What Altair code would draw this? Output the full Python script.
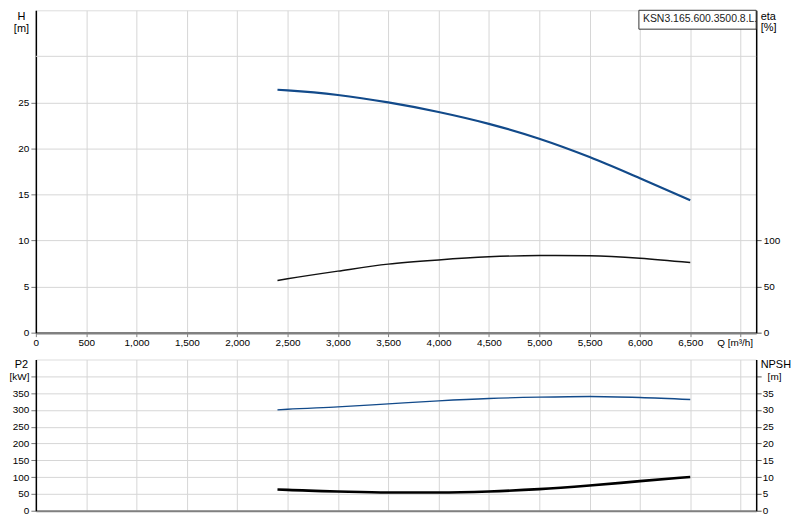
import altair as alt
import pandas as pd

# ---- data ----
Q = [2400, 2500, 3000, 3500, 4000, 4500, 5000, 5500, 6000, 6500]
H = [26.37, 26.3, 25.8, 25.0, 23.96, 22.67, 21.05, 19.06, 16.76, 14.38]
ETA = [56.7, 58.5, 66.8, 74.4, 79.0, 82.3, 83.7, 83.4, 80.9, 76.1]
P2 = [300, 302, 309, 318, 327, 334, 338, 340, 337, 331]
NPSH = [6.33, 6.2, 5.74, 5.44, 5.44, 5.74, 6.42, 7.5, 8.8, 10.06]

X_TICKS = list(range(0, 7001, 500))
H_TICKS = list(range(0, 26, 5))
H_EXTRA_GRID = [30]
ETA_TICKS = [0, 50, 100]
P2_TICKS = list(range(0, 401, 50))
NPSH_TICKS = list(range(0, 41, 5))
LABEL_TEXT = "KSN3.165.600.3500.8.L."

df = pd.DataFrame({"Q": Q, "H": H, "eta": ETA, "P2": P2, "NPSH": NPSH})
grid_df = pd.DataFrame({"h": H_EXTRA_GRID})

QMAX = 7155
FONT = "Liberation Sans"
FS = 10.5
BLUE = "#124a8a"
GRID = "#d6d6d6"
TXT = "#222222"

box_df = pd.DataFrame({"q1": [5990], "q2": [QMAX], "h1": [32.95], "h2": [35]})
txt_df = pd.DataFrame({"q": [6030], "h": [34.0], "t": [LABEL_TEXT]})

xscale = alt.Scale(domain=[0, QMAX], nice=False, zero=False)
hscale = alt.Scale(domain=[0, 35], nice=False)

x_top = alt.X(
    "Q:Q", scale=xscale,
    axis=alt.Axis(
        values=X_TICKS, title=None, grid=True, gridColor=GRID,
        labelExpr="datum.value == 7000 ? 'Q [m³/h]' : format(datum.value, ',')",
        labelOffset={"condition": {"test": "datum.value == 7000", "value": -6}, "value": 0},
        labelFlush=False, labelOverlap=False,
        domainColor="#808080", domainWidth=2.5, tickColor="#808080", tickSize=4,
        labelPadding=1,
    ),
)

grid30 = alt.Chart(grid_df).mark_rule(color=GRID, strokeWidth=1).encode(
    y=alt.Y("h:Q", scale=hscale, axis=None),
)

h_line = alt.Chart(df).mark_line(color=BLUE, strokeWidth=2.2, interpolate="monotone").encode(
    x=x_top,
    y=alt.Y(
        "H:Q", scale=hscale,
        axis=alt.Axis(
            values=H_TICKS, grid=True, gridColor=GRID,
            title=["H", "[m]"], titleAngle=0, titleX=-15, titleY=9,
            titleBaseline="alphabetic", titleAlign="center", titleLineHeight=12,
            titleFontWeight="normal",
            domainColor="#000000", domainWidth=1.5, tickColor="#777777", tickSize=5,
            labelPadding=2,
        ),
    ),
)

box = alt.Chart(box_df).mark_rect(fill="white", stroke="#333333", strokeWidth=1).encode(
    x=alt.X("q1:Q", scale=xscale),
    x2="q2:Q",
    y=alt.Y("h1:Q", scale=hscale, axis=None),
    y2="h2:Q",
)

box_text = alt.Chart(txt_df).mark_text(
    align="left", baseline="middle", font=FONT, fontSize=FS, color=TXT, clip=True
).encode(
    x=alt.X("q:Q", scale=xscale),
    y=alt.Y("h:Q", scale=hscale, axis=None),
    text="t:N",
)

eta_line = alt.Chart(df).mark_line(color="#111111", strokeWidth=1.5, interpolate="monotone").encode(
    x=alt.X("Q:Q", scale=xscale),
    y=alt.Y(
        "eta:Q", scale=alt.Scale(domain=[0, 350], nice=False),
        axis=alt.Axis(
            orient="right", values=ETA_TICKS, grid=False,
            title=["eta", "[%]"], titleAngle=0, titleX=4, titleY=9,
            titleBaseline="alphabetic", titleAlign="left", titleLineHeight=11,
            titleFontWeight="normal",
            domainColor="#000000", domainWidth=1.5, tickColor="#555555", tickSize=5,
            labelPadding=2,
        ),
    ),
)

top = alt.layer(grid30, h_line, eta_line, box, box_text).resolve_scale(y="independent").properties(
    width=724, height=324
)

x_bot = alt.X(
    "Q:Q", scale=xscale,
    axis=alt.Axis(
        values=X_TICKS, title=None, grid=True, gridColor=GRID, labels=False, ticks=False,
        domainColor="#808080", domainWidth=2,
    ),
)

p2_line = alt.Chart(df).mark_line(color=BLUE, strokeWidth=1.4, interpolate="monotone").encode(
    x=x_bot,
    y=alt.Y(
        "P2:Q", scale=alt.Scale(domain=[0, 450], nice=False),
        axis=alt.Axis(
            values=P2_TICKS, grid=True, gridColor=GRID,
            labelExpr="datum.value == 400 ? '[kW]' : datum.label",
            title="P2", titleAngle=0, titleX=-15, titleY=5,
            titleBaseline="middle", titleAlign="center", titleFontWeight="normal",
            domainColor="#000000", domainWidth=1.5, tickColor="#777777", tickSize=5,
            labelPadding=2,
        ),
    ),
)

npsh_line = alt.Chart(df).mark_line(color="#000000", strokeWidth=2.6, interpolate="monotone").encode(
    x=alt.X("Q:Q", scale=xscale),
    y=alt.Y(
        "NPSH:Q", scale=alt.Scale(domain=[0, 45], nice=False),
        axis=alt.Axis(
            orient="right", values=NPSH_TICKS, grid=False,
            labelExpr="datum.value == 40 ? '[m]' : datum.label",
            labelPadding={"condition": {"test": "datum.value == 40", "value": 6}, "value": 1},
            title="NPSH", titleAngle=0, titleX=4, titleY=5,
            titleBaseline="middle", titleAlign="left", titleFontWeight="normal",
            domainColor="#000000", domainWidth=1.5, tickColor="#555555", tickSize=5,
        ),
    ),
)

bottom = alt.layer(p2_line, npsh_line).resolve_scale(y="independent").properties(
    width=724, height=152
)

chart = alt.vconcat(top, bottom, spacing=9).properties(
    padding={"left": 0, "top": 0, "right": 0, "bottom": 0}
).configure_view(
    stroke="#666666", strokeWidth=1.2
).configure_axis(
    labelFont=FONT, labelFontSize=FS, labelColor=TXT,
    titleFont=FONT, titleFontSize=FS, titleColor=TXT, titleFontWeight="normal",
).configure(background="white")

chart.save("out.html", embed_options={"renderer": "svg", "actions": False})
